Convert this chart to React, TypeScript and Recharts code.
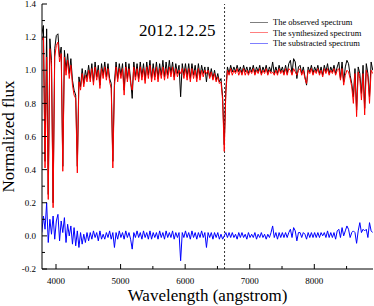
import React from 'react';
import { LineChart, Line, XAxis, YAxis, ReferenceLine } from 'recharts';

// wavelength grid (angstrom)
const wave = [
  3780, 3805, 3830, 3855, 3880, 3905, 3930, 3955, 3980, 4005,
  4030, 4055, 4080, 4105, 4130, 4155, 4180, 4205, 4230, 4255,
  4280, 4305, 4330, 4355, 4380, 4405, 4430, 4455, 4480, 4505,
  4530, 4555, 4580, 4605, 4630, 4655, 4680, 4705, 4730, 4755,
  4780, 4805, 4830, 4855, 4880, 4905, 4930, 4955, 4980, 5005,
  5030, 5055, 5080, 5105, 5130, 5155, 5180, 5205, 5230, 5255,
  5280, 5305, 5330, 5355, 5380, 5405, 5430, 5455, 5480, 5505,
  5530, 5555, 5580, 5605, 5630, 5655, 5680, 5705, 5730, 5755,
  5780, 5805, 5830, 5855, 5880, 5905, 5930, 5955, 5980, 6005,
  6030, 6055, 6080, 6105, 6130, 6155, 6180, 6205, 6230, 6255,
  6280, 6305, 6330, 6355, 6380, 6405, 6430, 6455, 6480, 6505,
  6530, 6555, 6580, 6605, 6630, 6655, 6680, 6705, 6730, 6755,
  6780, 6805, 6830, 6855, 6880, 6905, 6930, 6955, 6980, 7005,
  7030, 7055, 7080, 7105, 7130, 7155, 7180, 7205, 7230, 7255,
  7280, 7305, 7330, 7355, 7380, 7405, 7430, 7455, 7480, 7505,
  7530, 7555, 7580, 7605, 7630, 7655, 7680, 7705, 7730, 7755,
  7780, 7805, 7830, 7855, 7880, 7905, 7930, 7955, 7980, 8005,
  8030, 8055, 8080, 8105, 8130, 8155, 8180, 8205, 8230, 8255,
  8280, 8305, 8330, 8355, 8380, 8405, 8430, 8455, 8480, 8505,
  8530, 8555, 8580, 8605, 8630, 8655, 8680, 8705, 8730, 8755,
  8780, 8805, 8830, 8855, 8880, 8905,
];

const observed = [
  1.22, 1.27, 0.45, 1.25, 0.25, 1.19, 1.06, 0.20, 1.13, 1.21,
  1.22, 1.08, 1.14, 0.42, 1.12, 1.00, 1.10, 0.98, 1.07, 0.94,
  0.88, 0.85, 0.42, 0.96, 0.90, 1.01, 0.92, 1.00, 0.95, 1.03,
  0.95, 1.04, 0.93, 1.05, 0.96, 1.03, 0.91, 1.04, 0.97, 1.05,
  0.96, 1.04, 0.95, 0.92, 0.45, 0.93, 1.05, 0.95, 1.04, 0.97,
  1.04, 0.88, 1.05, 0.95, 1.04, 0.94, 0.83, 1.05, 0.96, 1.04,
  0.95, 1.05, 0.96, 1.04, 0.94, 1.05, 0.97, 1.06, 0.95, 1.04,
  0.96, 1.05, 0.95, 1.04, 0.97, 1.06, 0.96, 1.05, 0.97, 1.06,
  0.98, 1.05, 0.96, 1.04, 0.98, 1.03, 0.84, 1.04, 0.97, 1.04,
  0.96, 1.04, 0.95, 1.04, 0.97, 1.03, 0.95, 1.04, 0.96, 1.03,
  0.98, 1.02, 0.93, 1.02, 0.96, 1.01, 0.95, 1.00, 0.94, 0.98,
  0.93, 0.95, 0.84, 0.55, 0.88, 1.02, 0.98, 1.03, 0.99, 1.02,
  0.99, 1.03, 0.99, 1.02, 0.98, 1.03, 0.99, 1.02, 0.98, 1.02,
  0.99, 1.03, 0.98, 1.02, 0.99, 1.03, 0.98, 1.02, 0.99, 1.03,
  0.98, 1.02, 0.99, 1.05, 0.98, 1.02, 0.98, 1.03, 0.99, 1.02,
  0.98, 1.03, 0.98, 1.04, 1.06, 0.98, 1.07, 1.05, 0.95, 1.02,
  1.03, 0.98, 1.02, 0.96, 0.91, 1.02, 0.99, 1.03, 0.98, 1.02,
  0.99, 1.03, 0.98, 1.02, 0.97, 1.03, 0.99, 1.04, 0.98, 1.02,
  0.99, 1.03, 0.98, 1.02, 1.05, 0.95, 1.05, 0.93, 1.02, 1.06,
  1.04, 0.97, 0.92, 0.84, 1.01, 0.76, 1.02, 0.98, 0.86, 1.03,
  0.77, 1.04, 0.98, 0.84, 1.05, 1.00,
];

const synthesized = [
  1.18, 1.20, 0.41, 1.08, 0.22, 1.13, 1.03, 0.17, 1.08, 1.15,
  1.17, 1.05, 1.10, 0.39, 1.08, 0.97, 1.06, 0.95, 1.03, 0.91,
  0.85, 0.83, 0.38, 0.93, 0.88, 0.98, 0.90, 0.97, 0.93, 1.00,
  0.93, 1.01, 0.91, 1.02, 0.94, 1.00, 0.89, 1.01, 0.95, 1.02,
  0.94, 1.01, 0.93, 0.89, 0.41, 0.90, 1.02, 0.93, 1.01, 0.95,
  1.01, 0.85, 1.02, 0.93, 1.01, 0.92, 0.88, 1.02, 0.94, 1.01,
  0.93, 1.02, 0.94, 1.01, 0.92, 1.02, 0.95, 1.03, 0.93, 1.01,
  0.94, 1.02, 0.93, 1.01, 0.95, 1.02, 0.94, 1.01, 0.95, 1.02,
  0.96, 1.02, 0.94, 1.01, 0.96, 1.00, 0.98, 1.01, 0.95, 1.01,
  0.94, 1.01, 0.93, 1.01, 0.95, 1.00, 0.93, 1.01, 0.94, 1.00,
  0.96, 1.00, 0.98, 1.00, 0.95, 0.99, 0.94, 0.98, 0.93, 0.96,
  0.92, 0.93, 0.82, 0.51, 0.86, 1.00, 0.97, 1.01, 0.97, 1.00,
  0.98, 1.01, 0.97, 1.00, 0.97, 1.01, 0.97, 1.00, 0.97, 1.00,
  0.98, 1.01, 0.97, 1.00, 0.98, 1.01, 0.97, 1.00, 0.98, 1.01,
  0.97, 1.00, 0.98, 0.99, 0.97, 1.00, 0.97, 1.01, 0.98, 1.00,
  0.97, 1.01, 0.97, 1.01, 1.00, 0.97, 1.01, 0.99, 0.97, 1.00,
  1.01, 0.97, 1.00, 0.95, 0.92, 1.00, 0.98, 1.01, 0.97, 1.00,
  0.98, 1.01, 0.97, 1.00, 0.96, 1.01, 0.98, 1.01, 0.97, 1.00,
  0.98, 1.01, 0.97, 1.00, 1.01, 0.94, 1.01, 0.91, 0.97, 1.00,
  0.99, 0.95, 0.90, 0.80, 0.98, 0.72, 0.99, 0.95, 0.82, 0.98,
  0.73, 1.00, 0.96, 0.80, 1.00, 0.98,
];

const subtracted = [
  0.02, 0.12, 0.04, 0.20, -0.04, 0.10, 0.01, 0.12, -0.02, 0.09,
  0.13, -0.03, 0.09, 0.02, 0.11, -0.04, 0.07, 0.00, 0.06, -0.05,
  0.05, -0.06, 0.03, -0.07, 0.02, -0.05, 0.01, -0.04, 0.02, -0.03,
  0.02, -0.02, 0.03, -0.01, 0.02, -0.03, 0.03, -0.02, 0.01, -0.02,
  0.02, -0.01, 0.03, -0.02, 0.02, -0.07, 0.02, -0.02, 0.03, -0.01,
  0.02, -0.02, 0.03, -0.01, 0.02, -0.02, -0.08, 0.02, -0.01, 0.03,
  -0.01, 0.02, -0.02, 0.03, -0.01, 0.02, -0.02, 0.03, -0.02, 0.02,
  -0.01, 0.02, -0.02, 0.03, -0.01, 0.02, -0.02, 0.03, -0.01, 0.02,
  -0.01, 0.03, -0.02, 0.02, -0.01, 0.02, -0.15, 0.02, -0.01, 0.03,
  -0.01, 0.02, -0.02, 0.03, -0.01, 0.02, -0.02, 0.02, -0.01, 0.03,
  -0.01, 0.02, -0.07, 0.02, -0.01, 0.02, -0.02, 0.02, -0.01, 0.02,
  -0.02, 0.01, -0.02, 0.00, 0.02, -0.01, 0.02, -0.01, 0.02, -0.01,
  0.01, -0.02, 0.02, -0.01, 0.02, -0.01, 0.01, -0.02, 0.02, -0.01,
  0.01, -0.01, 0.02, -0.02, 0.01, -0.01, 0.02, -0.01, 0.01, -0.02,
  0.01, -0.01, 0.02, 0.06, -0.01, 0.02, -0.02, 0.02, -0.01, 0.02,
  -0.01, 0.02, -0.01, 0.02, 0.04, -0.01, 0.05, 0.03, -0.03, 0.02,
  0.02, -0.01, 0.02, 0.01, -0.02, 0.02, -0.01, 0.02, -0.01, 0.02,
  -0.01, 0.02, -0.01, 0.02, 0.00, 0.02, -0.01, 0.03, -0.01, 0.02,
  -0.01, 0.02, -0.02, 0.03, 0.04, -0.01, 0.05, 0.00, 0.03, 0.06,
  0.04, -0.01, 0.02, 0.03, 0.02, -0.045, 0.03, 0.08, 0.02, 0.04,
  0.03, 0.04, -0.01, 0.08, 0.03, 0.02,
];

const xTicks = [4000, 4500, 5000, 5500, 6000, 6500, 7000, 7500, 8000, 8500];
const xMajor = [4000, 5000, 6000, 7000, 8000];
const yTicks = [-0.2, -0.1, 0, 0.1, 0.2, 0.3, 0.4, 0.5, 0.6, 0.7, 0.8, 0.9, 1.0, 1.1, 1.2, 1.3, 1.4];
const yMajor = [-0.2, 0, 0.2, 0.4, 0.6, 0.8, 1.0, 1.2, 1.4];
const halpha = 6610;
const dateLabel = '2012.12.25';
const legendItems = [
  { name: 'The observed spectrum', color: '#000000' },
  { name: 'The synthesized spectrum', color: '#ff0000' },
  { name: 'The substracted spectrum', color: '#0000ff' },
];

const data = wave.map((w, i) => ({ w, obs: observed[i], syn: synthesized[i], res: subtracted[i] }));

const FONT = '"Liberation Serif", "Times New Roman", serif';

const isMajor = (list: number[], v: number) => list.some((m) => Math.abs(m - v) < 1e-6);

// custom ticks: inward pointing, short ones for minor values
const BottomTick = (props: any) => {
  const { x, y, payload } = props;
  const major = isMajor(xMajor, payload.value);
  return (
    <g>
      <line x1={x} y1={y} x2={x} y2={y - (major ? 5 : 3)} stroke="#000" />
      {major && (
        <text x={x} y={y + 15} textAnchor="middle" fontSize={9} fontFamily={FONT} fill="#000">
          {payload.value}
        </text>
      )}
    </g>
  );
};

const TopTick = (props: any) => {
  const { x, y, payload } = props;
  const major = isMajor(xMajor, payload.value);
  return <line x1={x} y1={y} x2={x} y2={y + (major ? 5 : 3)} stroke="#000" />;
};

const LeftTick = (props: any) => {
  const { x, y, payload } = props;
  const major = isMajor(yMajor, payload.value);
  return (
    <g>
      <line x1={x} y1={y} x2={x + (major ? 5 : 3)} y2={y} stroke="#000" />
      {major && (
        <text x={x - 6} y={y} dy="0.35em" textAnchor="end" fontSize={9} fontFamily={FONT} fill="#000">
          {payload.value.toFixed(1)}
        </text>
      )}
    </g>
  );
};

const RightTick = (props: any) => {
  const { x, y, payload } = props;
  const major = isMajor(yMajor, payload.value);
  return <line x1={x} y1={y} x2={x - (major ? 5 : 3)} y2={y} stroke="#000" />;
};

const labelStyle = { fontFamily: FONT, fontSize: 17, fill: '#000' };

export default function App() {
  return (
    <div style={{ position: 'absolute', left: 0, top: 0, width: 374, height: 306, background: '#fff', fontFamily: FONT }}>
      <LineChart width={374} height={306} data={data} margin={{ top: 4, right: 1, bottom: 0, left: 0 }}>
        <XAxis
          dataKey="w"
          type="number"
          domain={[3783, 8909]}
          allowDataOverflow
          ticks={xTicks}
          interval={0}
          tickSize={0}
          tickMargin={0}
          tick={<BottomTick />}
          height={37}
          axisLine={{ stroke: '#000' }}
          label={{ value: 'Wavelength (angstrom)', position: 'insideBottom', offset: 5, ...labelStyle, style: labelStyle }}
        />
        <XAxis
          xAxisId="top"
          orientation="top"
          dataKey="w"
          type="number"
          domain={[3783, 8909]}
          allowDataOverflow
          ticks={xTicks}
          interval={0}
          tickSize={0}
          tickMargin={0}
          tick={<TopTick />}
          height={0}
          axisLine={{ stroke: '#000' }}
        />
        <YAxis
          type="number"
          domain={[-0.2, 1.4]}
          allowDataOverflow
          ticks={yTicks}
          interval={0}
          tickSize={0}
          tickMargin={0}
          tick={<LeftTick />}
          width={42}
          axisLine={{ stroke: '#000' }}
          label={{ value: 'Normalized flux', angle: -90, position: 'insideLeft', offset: 8, ...labelStyle, style: { ...labelStyle, textAnchor: 'middle' } }}
        />
        <YAxis
          yAxisId="right"
          orientation="right"
          type="number"
          domain={[-0.2, 1.4]}
          allowDataOverflow
          ticks={yTicks}
          interval={0}
          tickSize={0}
          tickMargin={0}
          tick={<RightTick />}
          width={0}
          axisLine={{ stroke: '#000' }}
        />
        <ReferenceLine x={halpha} stroke="#333" strokeDasharray="2 2" />
        <Line name="The observed spectrum" dataKey="obs" stroke="#000000" strokeWidth={1} dot={false} isAnimationActive={false} />
        <Line name="The synthesized spectrum" dataKey="syn" stroke="#ff0000" strokeWidth={1} dot={false} isAnimationActive={false} />
        <Line name="The substracted spectrum" dataKey="res" stroke="#0000ff" strokeWidth={1} dot={false} isAnimationActive={false} />
      </LineChart>
      <div style={{ position: 'absolute', left: 139, top: 21, fontSize: 17, lineHeight: '20px', color: '#000' }}>
        {dateLabel}
      </div>
      <div style={{ position: 'absolute', left: 250, top: 17, fontSize: 8.5, lineHeight: '10.5px', color: '#000' }}>
        {legendItems.map((it) => (
          <div key={it.name} style={{ display: 'flex', alignItems: 'center' }}>
            <span style={{ display: 'inline-block', width: 18, height: 1, background: it.color, opacity: 0.5, marginRight: 5 }} />
            <span>{it.name}</span>
          </div>
        ))}
      </div>
    </div>
  );
}
